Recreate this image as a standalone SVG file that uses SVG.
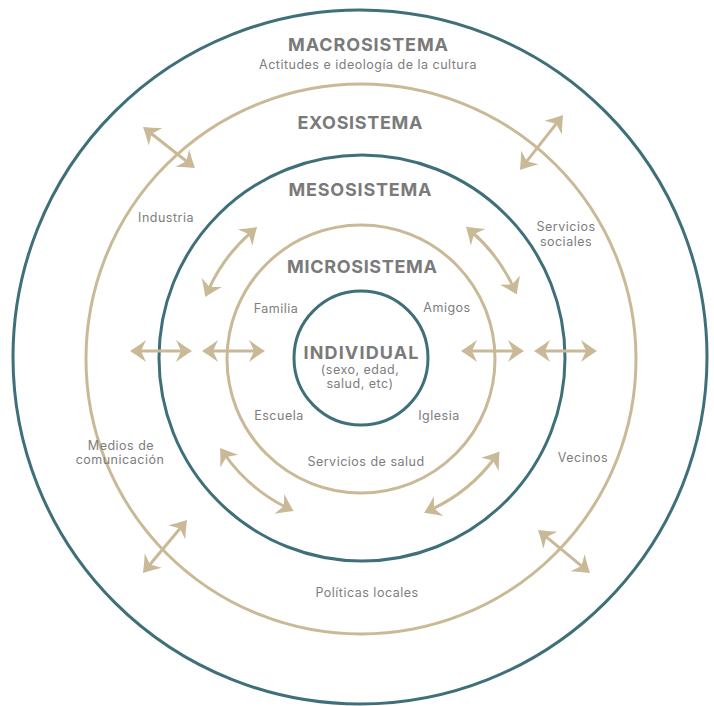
<svg xmlns="http://www.w3.org/2000/svg" width="714" height="706" viewBox="0 0 714 706">
<style>
.teal{fill:none;stroke:#3f6f79;stroke-width:3}
.beige{fill:none;stroke:#c9b997;stroke-width:3}
.arr{fill:none;stroke:#c9b997;stroke-width:3;marker-start:url(#ah);marker-end:url(#ah)}
.h{font-family:Inter,"Noto Sans",sans-serif;font-weight:700;font-size:18px;fill:#7a7a7a;text-anchor:middle}
.l{font-family:Inter,"Noto Sans",sans-serif;font-size:12.5px;letter-spacing:0.5px;fill:#7d7d7d;text-anchor:middle}
</style>
<defs>
<marker id="ah" viewBox="-18 -12 20 24" refX="-8" refY="0" markerWidth="20" markerHeight="24" markerUnits="userSpaceOnUse" orient="auto-start-reverse">
<path d="M0,0 Q-8,-5 -16,-11 L-11,0 L-16,11 Q-8,5 0,0 Z" fill="#c9b997"/>
</marker>
</defs>
<rect width="714" height="706" fill="#ffffff"/>
<g id="macrosistema">
<circle class="teal" cx="360" cy="357" r="347"/>
<text class="h" x="368" y="51" textLength="160">MACROSISTEMA</text>
<text class="l" x="368" y="69">Actitudes e ideología de la cultura</text>
</g>
<g id="exosistema">
<circle class="beige" cx="361" cy="359" r="275"/>
<text class="h" x="360" y="129" textLength="125">EXOSISTEMA</text>
<text class="l" x="166" y="222">Industria</text>
<text class="l" x="566" y="231">Servicios</text>
<text class="l" x="566" y="246">sociales</text>
<text class="l" x="121" y="450">Medios de</text>
<text class="l" x="120" y="464">comunicación</text>
<text class="l" x="583" y="462">Vecinos</text>
<text class="l" x="367" y="597">Políticas locales</text>
</g>
<g id="mesosistema">
<circle class="teal" cx="362" cy="358" r="203"/>
<text class="h" x="360" y="196" textLength="143">MESOSISTEMA</text>
</g>
<g id="microsistema">
<circle class="beige" cx="361" cy="359" r="134"/>
<text class="h" x="362" y="273" textLength="150">MICROSISTEMA</text>
<text class="l" x="276" y="313">Familia</text>
<text class="l" x="447" y="312">Amigos</text>
<text class="l" x="279" y="420">Escuela</text>
<text class="l" x="439" y="420">Iglesia</text>
<text class="l" x="366" y="466">Servicios de salud</text>
</g>
<g id="individual">
<circle class="teal" cx="361" cy="358" r="67"/>
<text class="h" x="361" y="359" textLength="115">INDIVIDUAL</text>
<text class="l" x="360" y="374">(sexo, edad,</text>
<text class="l" x="360" y="388">salud, etc)</text>
</g>
<g id="connectors">
<line class="arr" x1="138" y1="351" x2="184" y2="351"/>
<line class="arr" x1="210" y1="351" x2="257" y2="351"/>
<line class="arr" x1="469" y1="351" x2="516" y2="351"/>
<line class="arr" x1="542" y1="351" x2="589" y2="351"/>
<line class="arr" x1="149.3" y1="132" x2="188.7" y2="163"/>
<line class="arr" x1="558.1" y1="121.3" x2="524.9" y2="163.7"/>
<line class="arr" x1="181.9" y1="526.2" x2="148.1" y2="566.8"/>
<line class="arr" x1="544.2" y1="535.1" x2="583.8" y2="567.9"/>
<path class="arr" d="M251.1,232.3 A167,167 0 0 0 208.5,289.8"/>
<path class="arr" d="M472,232 A168,168 0 0 1 513.4,287.3"/>
<path class="arr" d="M224.7,454.5 A167,167 0 0 0 286.5,507.5"/>
<path class="arr" d="M494.7,458 A167,167 0 0 1 431.3,509.5"/>
</g>
</svg>
